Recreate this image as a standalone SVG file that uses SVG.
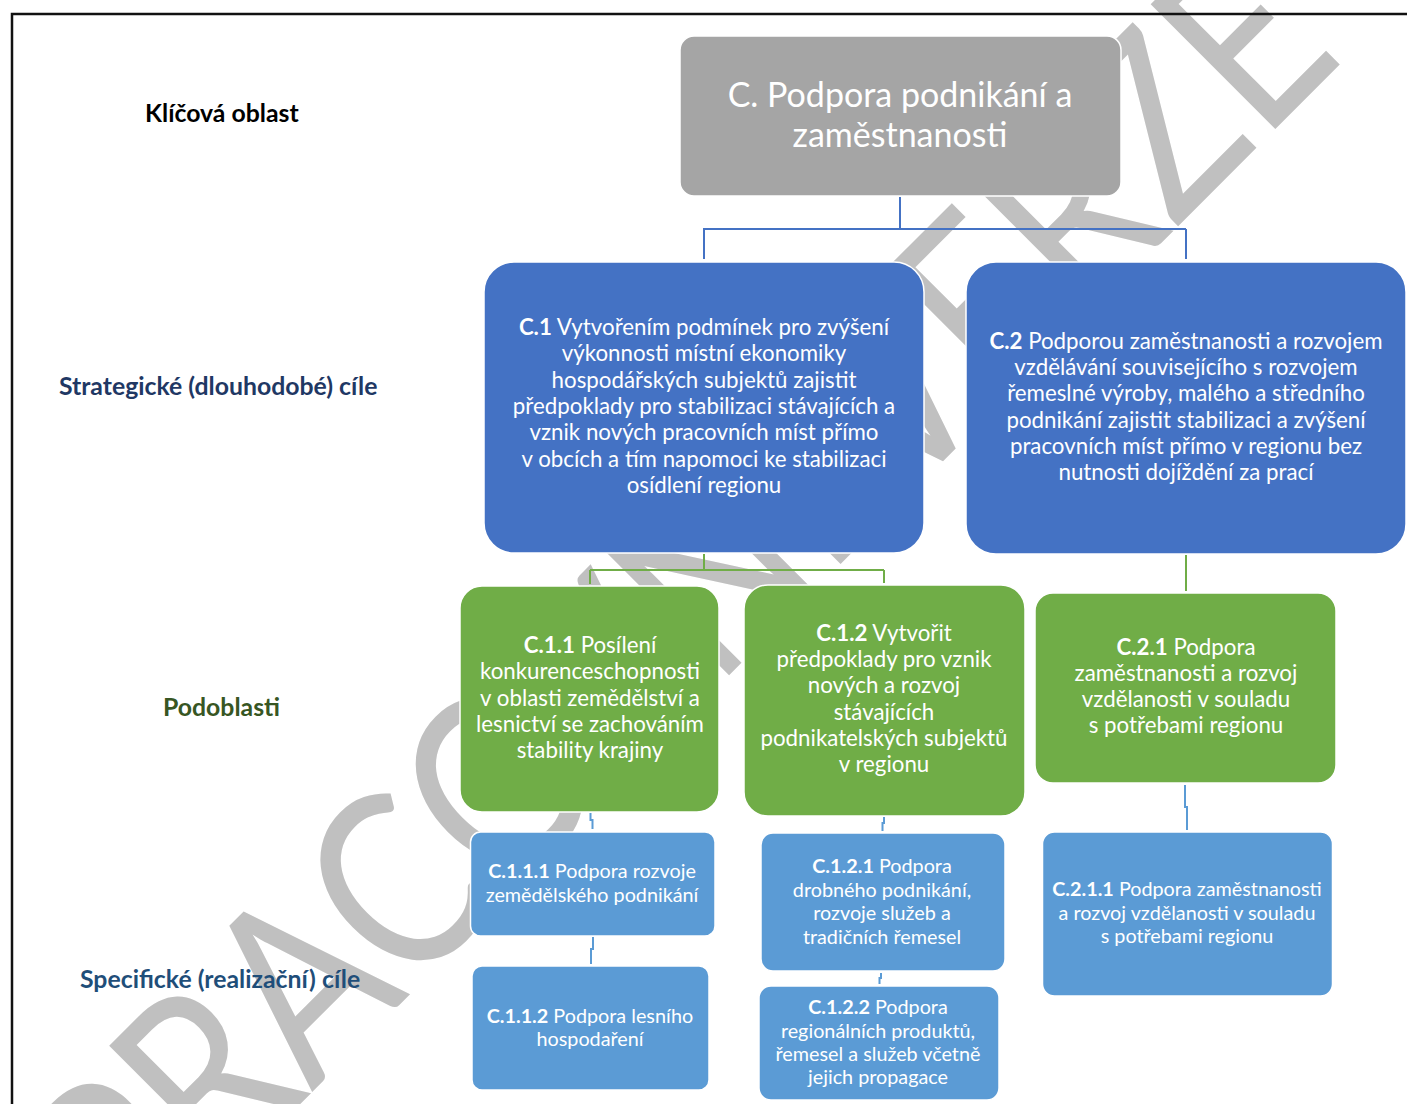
<svg xmlns="http://www.w3.org/2000/svg" width="1407" height="1104" viewBox="0 0 1407 1104">
<style>
.wm{font-family:Lato,"Liberation Sans",sans-serif;font-size:246px;fill:#c0c0c0}
.lbl{font-family:Lato,"Liberation Sans",sans-serif;font-weight:bold;font-size:24.8px}
.t{font-family:Lato,"Liberation Sans",sans-serif;fill:#fff;text-anchor:middle}
.b{font-weight:bold}
.big{font-size:22.3px}
.small{font-size:19.8px}
.title{font-size:34px}
.box{stroke:#fff;stroke-width:1.5}
.gray{fill:#a5a5a5}.blue{fill:#4472c4}.green{fill:#70ad47}.lb{fill:#5b9bd5}
.c{fill:none;stroke-width:2}
.cb{stroke:#4472c4}.cg{stroke:#70ad47}.cl{stroke:#5b9bd5}
</style>
<rect width="1407" height="1104" fill="#fff"/>
<text class="wm" transform="rotate(-45)" x="-805" y="993" textLength="1716" lengthAdjust="spacingAndGlyphs">PRACOVNÍ VERZE</text>
<rect x="12" y="14" width="1420" height="1120" fill="none" stroke="#111" stroke-width="2.5"/>
<g id="labels">
<text class="lbl" x="145" y="122" fill="#000">Klíčová oblast</text>
<text class="lbl" x="59" y="395" fill="#1f3864">Strategické (dlouhodobé) cíle</text>
<text class="lbl" x="163" y="716" fill="#375623">Podoblasti</text>
<text class="lbl" x="80" y="988" fill="#1f4e79">Specifické (realizační) cíle</text>
</g>
<g id="connectors">
<path class="c cb" d="M900,197 V229 M703,229 H1186 M704,229 V259 M1186,229 V259"/>
<path class="c cg" d="M704,554 V570 M590,570 H884 M590,570 V584 M884,570 V583 M1186,555 V591"/>
<path class="c cl" d="M590.5,813 V820 H592.5 V829 M593,937 V949 H591 V964 M884,817 V823 H882.5 V831 M881,973 V978 H879.5 V984 M1185,785 V807 H1187 V830"/>
</g>
<g id="C">
<rect class="box gray" x="680" y="36" width="441" height="160" rx="14"/>
<text class="t title" x="900" y="107">C. Podpora podnikání a</text>
<text class="t title" x="900" y="147">zaměstnanosti</text>
</g>
<g id="C1">
<rect class="box blue" x="484" y="262" width="440" height="291" rx="30"/>
<text class="t big" x="704" y="335"><tspan class="b">C.1</tspan> Vytvořením podmínek pro zvýšení</text>
<text class="t big" x="704" y="361">výkonnosti místní ekonomiky</text>
<text class="t big" x="704" y="388">hospodářských subjektů zajistit</text>
<text class="t big" x="704" y="414">předpoklady pro stabilizaci stávajících a</text>
<text class="t big" x="704" y="440">vznik nových pracovních míst přímo</text>
<text class="t big" x="704" y="467">v obcích a tím napomoci ke stabilizaci</text>
<text class="t big" x="704" y="493">osídlení regionu</text>
</g>
<g id="C2">
<rect class="box blue" x="966" y="262" width="440" height="292" rx="30"/>
<text class="t big" x="1186" y="349"><tspan class="b">C.2</tspan> Podporou zaměstnanosti a rozvojem</text>
<text class="t big" x="1186" y="375">vzdělávání souvisejícího s rozvojem</text>
<text class="t big" x="1186" y="401">řemeslné výroby, malého a středního</text>
<text class="t big" x="1186" y="428">podnikání zajistit stabilizaci a zvýšení</text>
<text class="t big" x="1186" y="454">pracovních míst přímo v regionu bez</text>
<text class="t big" x="1186" y="480">nutnosti dojíždění za prací</text>
</g>
<g id="C11">
<rect class="box green" x="460" y="586" width="259" height="226" rx="22"/>
<text class="t big" x="590" y="653"><tspan class="b">C.1.1</tspan> Posílení</text>
<text class="t big" x="590" y="679">konkurenceschopnosti</text>
<text class="t big" x="590" y="706">v oblasti zemědělství a</text>
<text class="t big" x="590" y="732">lesnictví se zachováním</text>
<text class="t big" x="590" y="758">stability krajiny</text>
</g>
<g id="C12">
<rect class="box green" x="744" y="585" width="281" height="231" rx="24"/>
<text class="t big" x="884" y="641"><tspan class="b">C.1.2</tspan> Vytvořit</text>
<text class="t big" x="884" y="667">předpoklady pro vznik</text>
<text class="t big" x="884" y="693">nových a rozvoj</text>
<text class="t big" x="884" y="720">stávajících</text>
<text class="t big" x="884" y="746">podnikatelských subjektů</text>
<text class="t big" x="884" y="772">v regionu</text>
</g>
<g id="C21">
<rect class="box green" x="1035" y="593" width="301" height="190" rx="18"/>
<text class="t big" x="1186" y="655"><tspan class="b">C.2.1</tspan> Podpora</text>
<text class="t big" x="1186" y="681">zaměstnanosti a rozvoj</text>
<text class="t big" x="1186" y="707">vzdělanosti v souladu</text>
<text class="t big" x="1186" y="733">s potřebami regionu</text>
</g>
<g id="C111">
<rect class="box lb" x="470.5" y="832" width="244.5" height="104" rx="10"/>
<text class="t small" x="592" y="878"><tspan class="b">C.1.1.1</tspan> Podpora rozvoje</text>
<text class="t small" x="592" y="902">zemědělského podnikání</text>
</g>
<g id="C112">
<rect class="box lb" x="472" y="966" width="237" height="124" rx="10"/>
<text class="t small" x="590" y="1023"><tspan class="b">C.1.1.2</tspan> Podpora lesního</text>
<text class="t small" x="590" y="1046">hospodaření</text>
</g>
<g id="C121">
<rect class="box lb" x="761" y="833" width="244" height="138" rx="12"/>
<text class="t small" x="882" y="873"><tspan class="b">C.1.2.1</tspan> Podpora</text>
<text class="t small" x="882" y="897">drobného podnikání,</text>
<text class="t small" x="882" y="920">rozvoje služeb a</text>
<text class="t small" x="882" y="944">tradičních řemesel</text>
</g>
<g id="C122">
<rect class="box lb" x="759" y="986" width="240" height="114" rx="12"/>
<text class="t small" x="878" y="1014"><tspan class="b">C.1.2.2</tspan> Podpora</text>
<text class="t small" x="878" y="1038">regionálních produktů,</text>
<text class="t small" x="878" y="1061">řemesel a služeb včetně</text>
<text class="t small" x="878" y="1084">jejich propagace</text>
</g>
<g id="C211">
<rect class="box lb" x="1042.5" y="832" width="290" height="164" rx="12"/>
<text class="t small" x="1187" y="896"><tspan class="b">C.2.1.1</tspan> Podpora zaměstnanosti</text>
<text class="t small" x="1187" y="920">a rozvoj vzdělanosti v souladu</text>
<text class="t small" x="1187" y="943">s potřebami regionu</text>
</g>
</svg>
